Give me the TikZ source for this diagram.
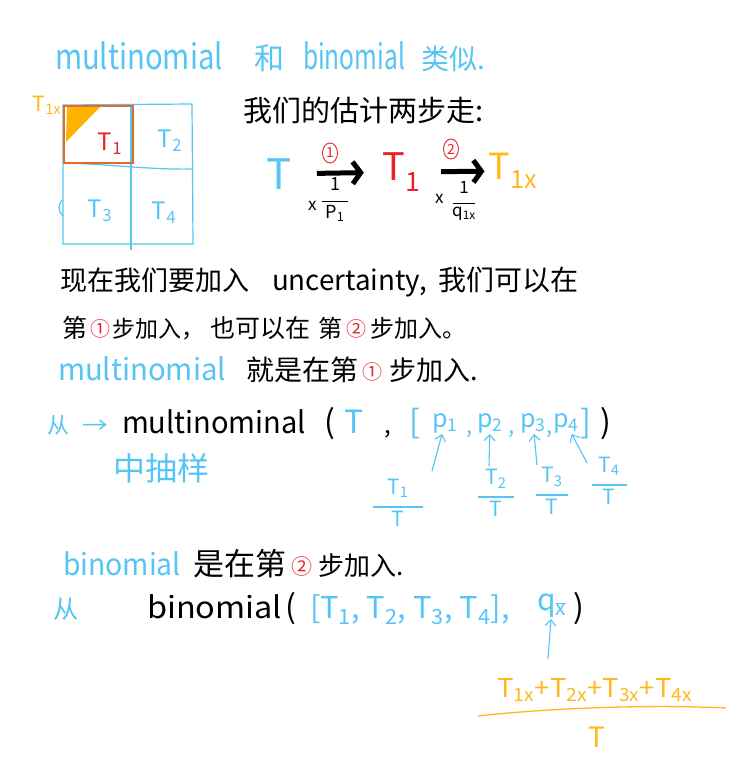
\documentclass[tikz,border=0pt]{standalone}
\usepackage{fontspec}
\usepackage{graphicx}
\setmainfont{Noto Sans CJK SC}
\usetikzlibrary{arrows.meta,shapes.geometric}
\definecolor{hblue}{RGB}{85,197,245}
\definecolor{hred}{RGB}{232,35,45}
\definecolor{hgold}{RGB}{255,185,30}
\definecolor{hbox}{RGB}{232,105,40}
\definecolor{hfill}{RGB}{255,178,0}
\newcommand\W[3]{\resizebox{#1pt}{\height}{\fontsize{#2}{#2}\selectfont #3}}
\newcommand\F[1]{\fontsize{#1}{#1}\selectfont}
\newcommand\sub[1]{\textsubscript{#1}}
\newcommand\hfrac[3]{{\renewcommand\arraystretch{0.62}\begin{tabular}{@{}c@{}}#2\\\rule{#1pt}{1.2pt}\\#3\end{tabular}}}
\tikzset{
  txt/.style={anchor=base west, inner sep=0pt, outer sep=0pt},
  mid/.style={anchor=center, inner sep=1pt},
  cb/.style={text=hblue},
  cr/.style={text=hred},
  cg/.style={text=hgold},
  ck/.style={text=black},
  circnum/.style={ellipse, draw=hred, line width=0.9pt, text=hred, inner sep=0pt,
    minimum width=15pt, minimum height=20pt, font=\F{14}},
  bigarrow/.style={line width=5pt, -{Straight Barb[length=8pt,width=22pt]}},
  parr/.style={hblue, line width=1.1pt, -{Straight Barb[length=6pt,width=11pt]}},
  gridline/.style={hblue, line width=1.2pt},
}
\begin{document}
\begin{tikzpicture}[x=1pt,y=-1pt]
\fill[white] (0,0) rectangle (752,775);
\path[use as bounding box] (0,0) rectangle (752,775);

% title
\node[txt,cb] (tt1) at (55,70) {\W{168}{35}{multinomial}};
\node[txt,cb] (tt2) at (254,70) {\F{30}和};
\node[txt,cb] (tt3) at (303,70) {\W{102}{35}{binomial}};
\node[txt,cb] (tt4) at (421,70) {\F{28}类似.};

% grid
\draw[gridline] (63,105) -- (192,104) -- (193,244) -- (63,244) -- cycle;
\draw[gridline] (131,104) -- (131,250);
\draw[gridline] (63,163) .. controls (110,164) and (150,170) .. (193,169);
\draw[gridline] (62,200) .. controls (58,205) and (58,212) .. (63,216);
\fill[hfill] (67,107) -- (101,106) -- (66,142) -- cycle;
\draw[hbox, line width=1.3pt] (64,106) rectangle (133,163);
\node[mid,cg,font=\F{21}] (g0) at (47,105) {T\sub{1x}};
\node[mid,cr,font=\F{24}] (g1) at (110,144) {T\sub{1}};
\node[mid,cb,font=\F{24}] (g2) at (170,141) {T\sub{2}};
\node[mid,cb,font=\F{24}] (g3) at (100,211) {T\sub{3}};
\node[mid,cb,font=\F{24}] (g4) at (164,213) {T\sub{4}};

% heading
\node[txt,ck] (head) at (243,122) {\F{29}我们的估计两步走:};

% flow
\node[mid,cb,font=\F{42}] (tA) at (279,174) {T};
\node[mid,cr,font=\F{38}] (tB) at (402,172) {T\sub{1}};
\node[mid,cg,font=\F{36}] (tC) at (513,171) {T\sub{1x}};
\draw[bigarrow, shorten <=24pt, shorten >=18pt] (tA) -- (tB);
\draw[bigarrow, shorten <=19pt, shorten >=3pt] (tB) -- (tC);
\node[circnum] (c1) at (330,153) {1};
\node[circnum] (c2) at (451,149) {2};
\node[txt,ck] (x1) at (308,211) {\F{17}x};
\node[mid,ck] (fr1) at (335,200) {\F{18}\hfrac{26}{1}{P\sub{1}}};
\node[txt,ck] (x2) at (435,204) {\F{17}x};
\node[mid,ck] (fr2) at (464,201) {\F{17}\hfrac{22}{1}{q\sub{1x}}};

% line 1
\node[txt,ck] (l1a) at (60,290) {\F{27}现在我们要加入};
\node[txt,ck] (l1b) at (272,290) {\W{155}{28}{uncertainty,}};
\node[txt,ck] (l1c) at (438,290) {\F{28}我们可以在};

% line 2
\node[txt,ck] (l2a) at (62,337) {\F{25}第};
\node[txt,cr] (l2b) at (90,336) {\F{20}①};
\node[txt,ck] (l2c) at (112,337) {\F{23}步加入，};
\node[txt,ck] (l2d) at (210,337) {\F{25}也可以在};
\node[txt,ck] (l2e) at (318,337) {\F{24}第};
\node[txt,cr] (l2f) at (346,336) {\F{20}②};
\node[txt,ck] (l2g) at (370,337) {\F{24}步加入。};

% line 3
\node[txt,cb] (l3a) at (58,380) {\W{168}{30}{multinomial}};
\node[txt,ck] (l3b) at (246,380) {\F{28}就是在第};
\node[txt,cr] (l3c) at (362,379) {\F{20}①};
\node[txt,ck] (l3d) at (389,380) {\F{27}步加入.};

% line 4
\node[txt,cb] (l4a) at (47,433) {\F{22}从};
\node[txt,cb] (l4b) at (82,433) {\W{26}{22}{→}};
\node[txt,ck] (l4c) at (122,433) {\W{184}{30}{multinominal}};
\node[txt,ck] (l4d) at (324,433) {\F{32}(};
\node[txt,cb] (l4e) at (344,433) {\F{32}T};
\node[txt,ck] (l4f) at (384,433) {\F{24},};
\node[txt,cb] (l4g) at (409,433) {\F{32}[};
\node[mid,cb,font=\F{25}] (p1) at (445,423) {p\sub{1}};
\node[txt,cb] (k1) at (466,433) {\F{22},};
\node[mid,cb,font=\F{25}] (p2) at (490,423) {p\sub{2}};
\node[txt,cb] (k2) at (508,433) {\F{22},};
\node[mid,cb,font=\F{25}] (p3) at (533,423) {p\sub{3}};
\node[txt,cb] (k3) at (546,433) {\F{22},};
\node[mid,cb,font=\F{25}] (p4) at (566,423) {p\sub{4}};
\node[txt,cb] (l4h) at (580,433) {\F{32}]};
\node[txt,ck] (l4i) at (600,433) {\F{32})};
\node[txt,cb] (l4j) at (113,480) {\F{32}中抽样};

% fractions (line 4)
\node[mid,cb] (fa) at (398,505) {\F{21}\hfrac{50}{T\sub{1}}{T}};
\node[mid,cb] (fb) at (496,495) {\F{21}\hfrac{36}{T\sub{2}}{T}};
\node[mid,cb] (fc) at (552,493) {\F{21}\hfrac{32}{T\sub{3}}{T}};
\node[mid,cb] (fd) at (609,483) {\F{21}\hfrac{35}{T\sub{4}}{T}};
\coordinate (a1) at (432,471);
\coordinate (a2) at (489,466);
\coordinate (a3) at (537,465);
\coordinate (a4) at (587,463);
\draw[parr] (a1) -- (p1);
\draw[parr] (a2) -- (p2);
\draw[parr] (a3) -- (p3);
\draw[parr] (a4) -- (p4);

% line 5
\node[txt,cb] (l5a) at (63,575) {\W{118}{30}{binomial}};
\node[txt,ck] (l5b) at (193,575) {\F{31}是在第};
\node[txt,cr] (l5c) at (291,574) {\F{21}②};
\node[txt,ck] (l5d) at (318,575) {\F{26}步加入.};

% line 6
\node[txt,cb] (l6a) at (53,618) {\F{25}从};
\node[txt,ck] (l6b) at (147,618) {\W{135}{30}{binomial}};
\node[txt,ck] (l6c) at (285,618) {\F{32}(};
\node[txt,cb] (l6d) at (310,618) {\W{200}{30}{[T\sub{1}, T\sub{2}, T\sub{3}, T\sub{4}],}};
\node[mid,cb,font=\F{30}] (qx) at (552,606) {q\sub{$\overline{\mbox{x}}$}};
\node[txt,ck] (l6e) at (573,618) {\F{32})};
\coordinate (a5) at (548,659);
\draw[parr] (a5) -- (qx);

% orange fraction
\node[mid,cg] (on) at (595,690) {\W{195}{26}{T\sub{1x}+T\sub{2x}+T\sub{3x}+T\sub{4x}}};
\draw[hgold, line width=1.3pt] (478,716) .. controls (540,709) and (640,704) .. (726,708);
\node[mid,cg,font=\F{28}] (od) at (597,737) {T};
\end{tikzpicture}
\end{document}
